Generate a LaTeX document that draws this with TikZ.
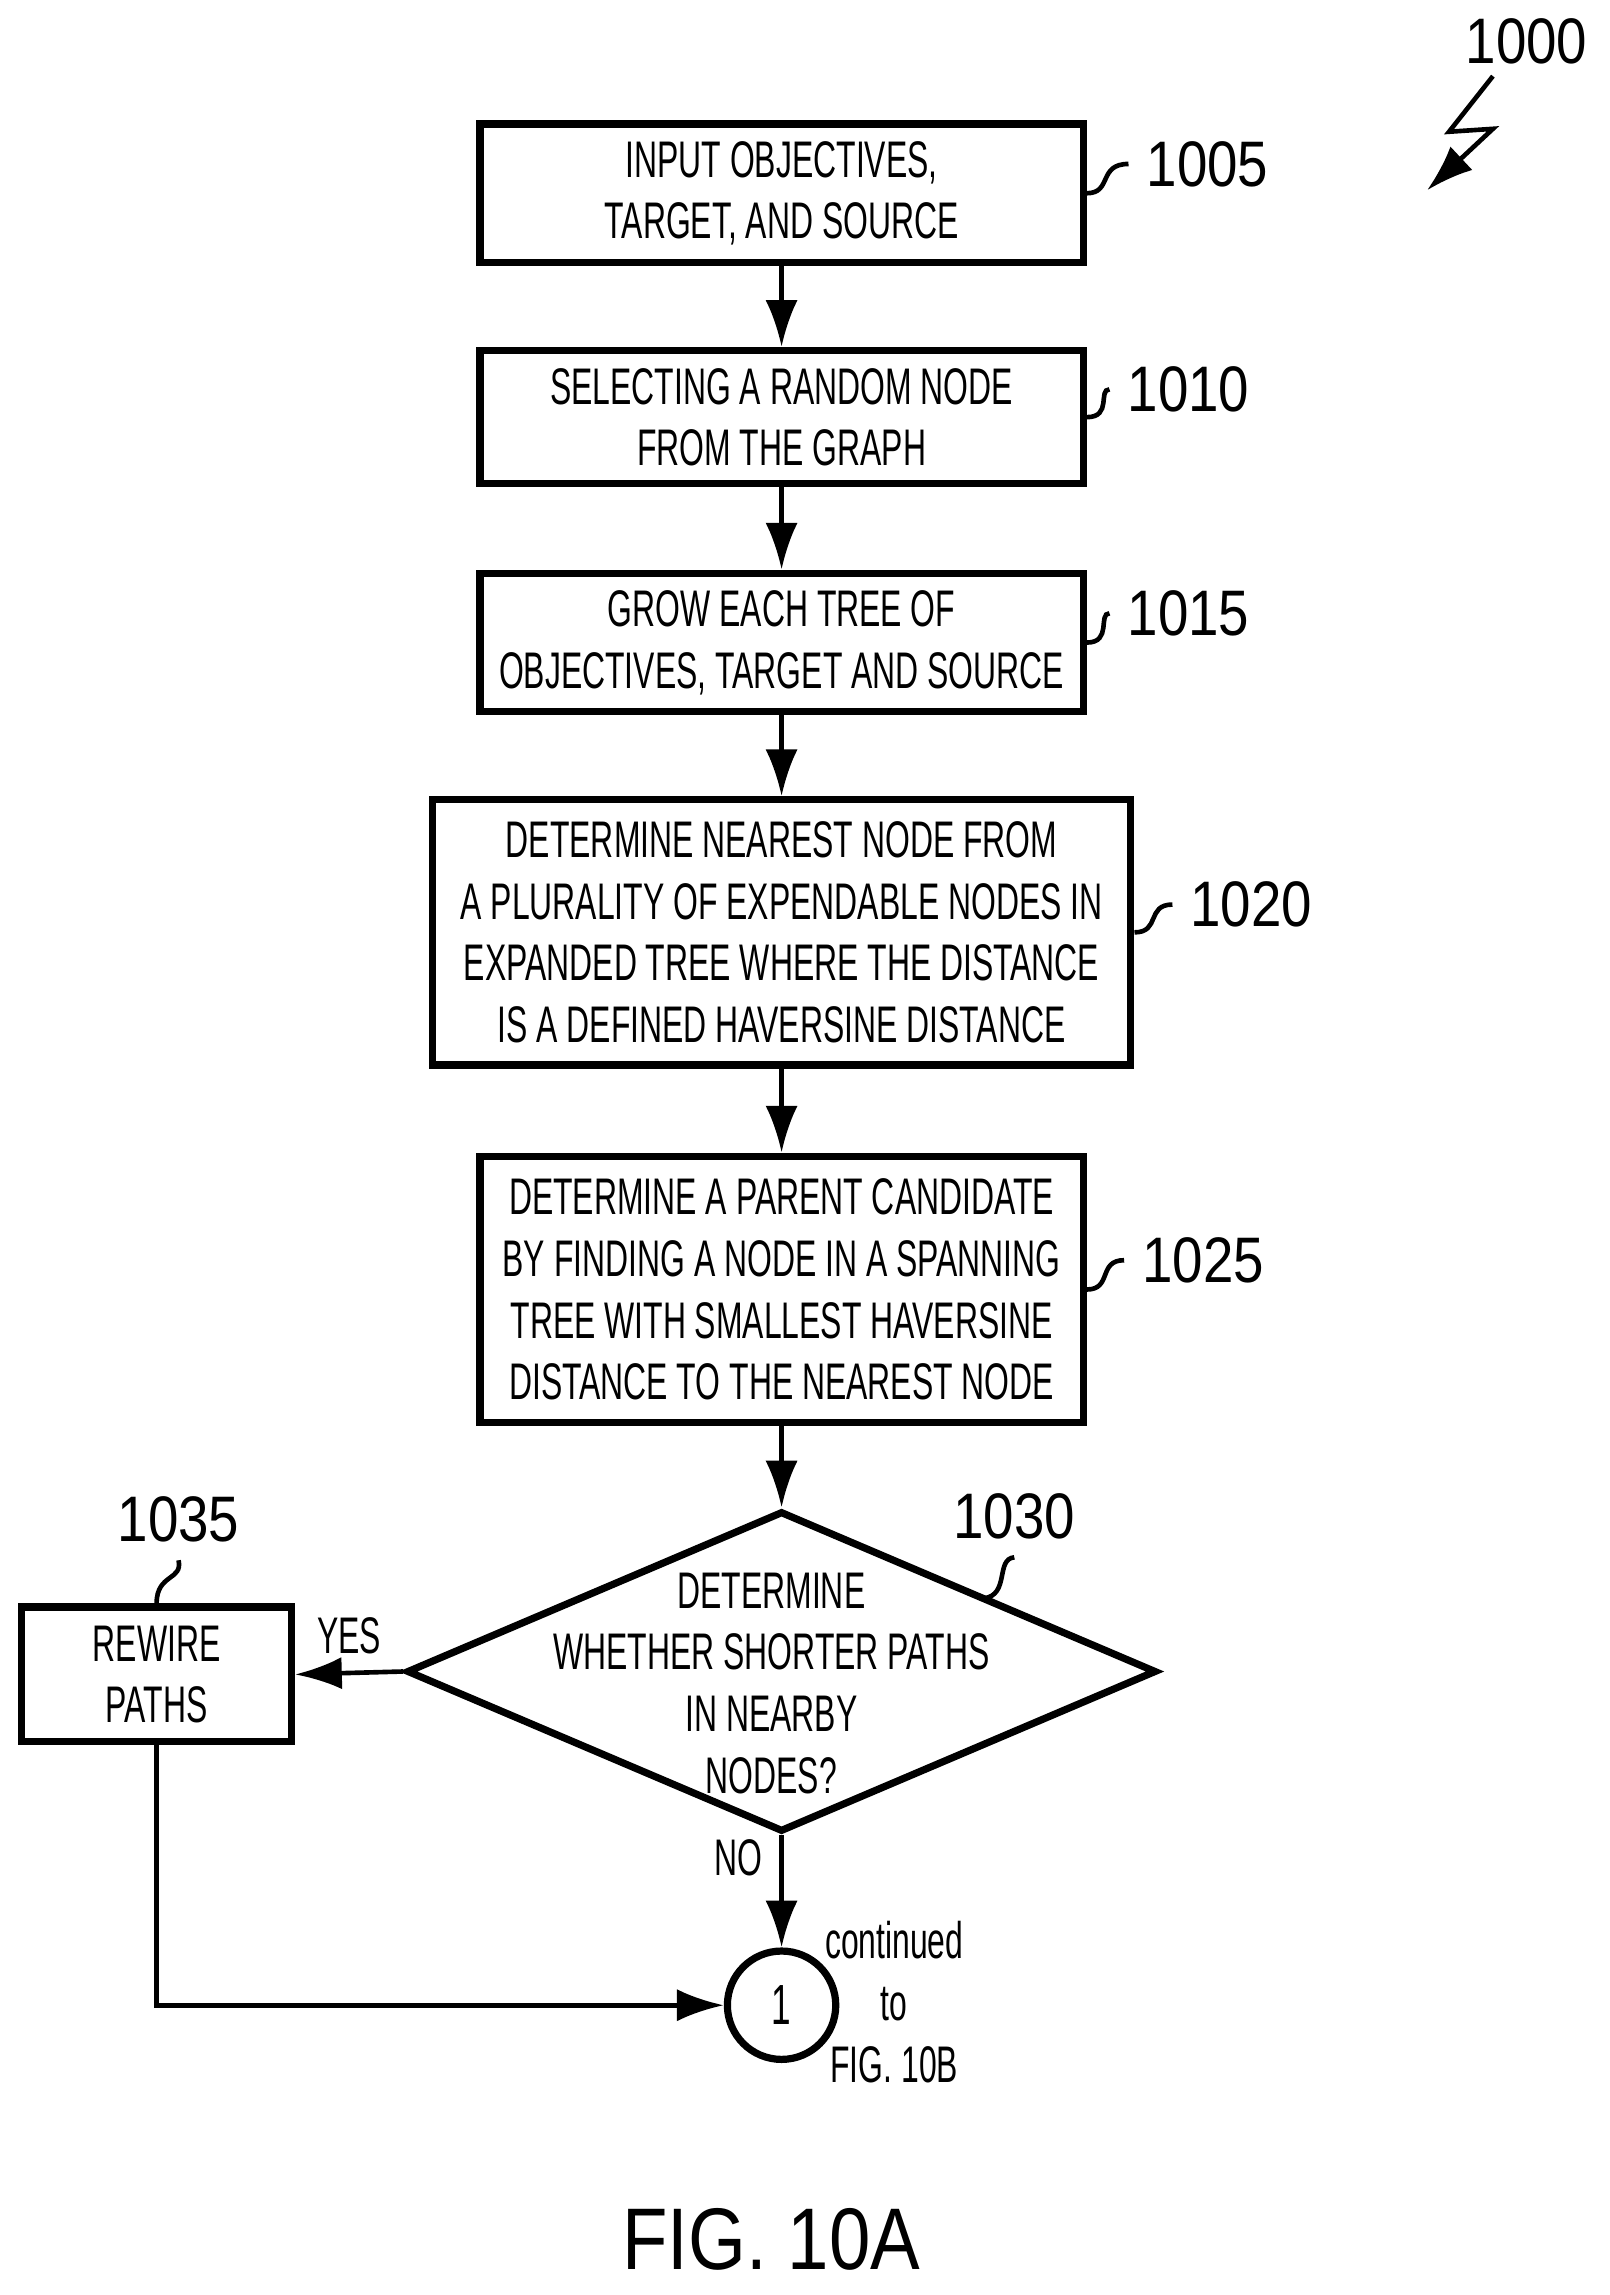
\documentclass[tikz,border=0pt]{standalone}
\usepackage{fontspec}
\setmainfont{Liberation Sans}[FakeStretch=0.62]
\newfontfamily\reffont{Liberation Sans}[FakeStretch=0.85]
\usetikzlibrary{shapes.geometric,arrows.meta}
\tikzset{
  fbox/.style={draw, line width=1.4pt, align=center, font=\fontsize{10}{12}\selectfont},
  ref/.style={font=\reffont\fontsize{12.5}{15}\selectfont},
  flow/.style={line width=0.9pt, -{Latex[length=3.2mm,width=2.2mm]}},
  lead/.style={line width=0.9pt}
}
\begin{document}
\begin{tikzpicture}[x=0.01cm,y=-0.01cm]
\useasboundingbox (0,0) rectangle (1100,1568);
            % Schritte
            \node[fbox, minimum width=4.12cm, minimum height=0.91cm] (s1005) at (534,132) {INPUT OBJECTIVES,\\TARGET, AND SOURCE};
            \node[fbox, minimum width=4.12cm, minimum height=0.91cm] (s1010) at (534,285) {SELECTING A RANDOM NODE\\FROM THE GRAPH};
            \node[fbox, minimum width=4.12cm, minimum height=0.92cm] (s1015) at (534,439) {GROW EACH TREE OF\\OBJECTIVES, TARGET AND SOURCE};
            \node[fbox, minimum width=4.77cm, minimum height=1.81cm] (s1020) at (534,637) {DETERMINE NEAREST NODE FROM\\A PLURALITY OF EXPENDABLE NODES IN\\EXPANDED TREE WHERE THE DISTANCE\\IS A DEFINED HAVERSINE DISTANCE};
            \node[fbox, minimum width=4.12cm, minimum height=1.82cm] (s1025) at (534,881) {DETERMINE A PARENT CANDIDATE\\BY FINDING A NODE IN A SPANNING\\TREE WITH SMALLEST HAVERSINE\\DISTANCE TO THE NEAREST NODE};
            \node[fbox, diamond, inner sep=0pt, minimum width=5.12cm, minimum height=2.19cm] (s1030) at (534,1142) {};
            \node[align=center, font=\fontsize{10}{12}\selectfont] at (527,1150) {DETERMINE\\WHETHER SHORTER PATHS\\IN NEARBY\\NODES?};
            \node[fbox, minimum width=1.84cm, minimum height=0.92cm] (s1035) at (107,1144) {REWIRE\\PATHS};
            \node[draw, circle, line width=1.4pt, minimum size=0.74cm, inner sep=0pt, font=\fontsize{11}{13}\selectfont] (c1) at (534,1370) {1};
            \node[align=center, font=\fontsize{10}{12}\selectfont] (cont) at (611,1368) {continued\\to\\FIG. 10B};

            % Pfeile
            \draw[flow] (s1005) -- (s1010);
            \draw[flow] (s1010) -- (s1015);
            \draw[flow] (s1015) -- (s1020);
            \draw[flow] (s1020) -- (s1025);
            \draw[flow] (s1025) -- (s1030);
            \draw[flow] (s1030.west) -- node[above, font=\fontsize{10}{12}\selectfont] {YES} (s1035.east);
            \draw[flow] (s1030.south) -- node[left, font=\fontsize{10}{12}\selectfont, pos=0.2] {NO} (c1.north);
            \draw[flow] (s1035.south) |- (c1.west);

            % Bezugszeichen
            \node[ref] (n1005) at (825,112) {1005};
            \node[ref] (n1010) at (812,266) {1010};
            \node[ref] (n1015) at (812,419) {1015};
            \node[ref] (n1020) at (855,618) {1020};
            \node[ref] (n1025) at (822,861) {1025};
            \node[ref] (n1030) at (693,1036) {1030};
            \node[ref] (n1035) at (122,1038) {1035};
            \node[ref] (n1000) at (1043,28) {1000};
            \draw[lead] (s1005.east) .. controls (760,132) and (750,112) .. (n1005.west);
            \draw[lead] (s1010.east) .. controls (760,285) and (750,266) .. (n1010.west);
            \draw[lead] (s1015.east) .. controls (760,439) and (750,419) .. (n1015.west);
            \draw[lead] (s1020.east) .. controls (793,637) and (783,618) .. (n1020.west);
            \draw[lead] (s1025.east) .. controls (760,881) and (750,861) .. (n1025.west);
            \draw[lead] (672,1092) .. controls (690,1090) and (680,1065) .. (n1030.south);
            \draw[lead] (s1035.north) .. controls (107,1075) and (125,1080) .. (n1035.south);
            \draw[line width=0.9pt, -{Latex[length=3.2mm,width=2.2mm]}] (1020,52) -- (990,90) -- (1020,88) -- (975,130);
            \node[font=\reffont\fontsize{17}{20}\selectfont] (fig) at (527,1530) {FIG. 10A};
        \end{tikzpicture}
\end{document}
